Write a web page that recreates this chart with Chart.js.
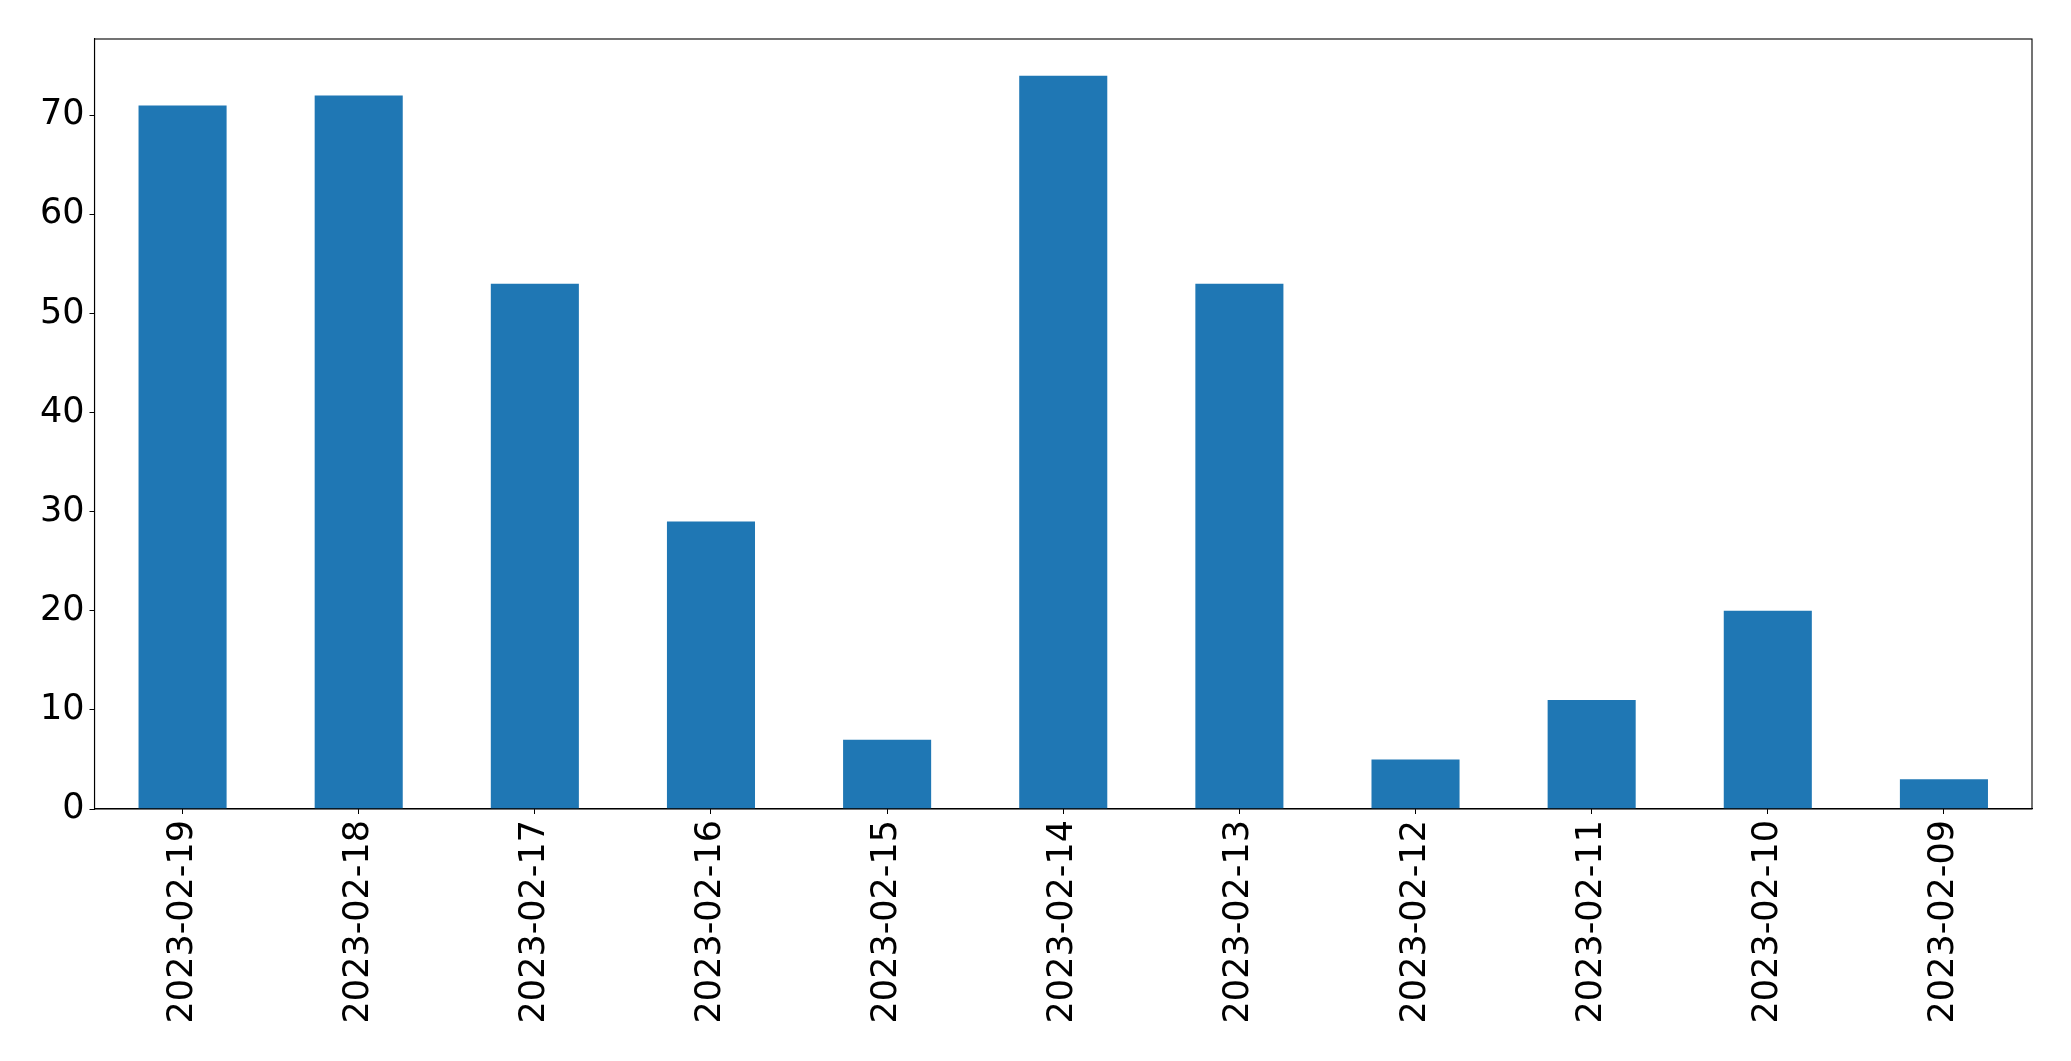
<!DOCTYPE html>
<html>
<head>
<meta charset="utf-8">
<script src="https://cdn.jsdelivr.net/npm/chart.js@4/dist/chart.umd.min.js"></script>
<style>
    body { margin: 0; background: #fff; }
    canvas { display: block; }
</style>
</head>
<body>
<canvas id="barChart" width="2071" height="1061"></canvas>
<script>
// Данные графика
const dates = ['2023-02-19', '2023-02-18', '2023-02-17', '2023-02-16', '2023-02-15', '2023-02-14',
    '2023-02-13', '2023-02-12', '2023-02-11', '2023-02-10', '2023-02-09'];
const counts = [71, 72, 53, 29, 7, 74, 53, 5, 11, 20, 3];
const yTicks = [0, 10, 20, 30, 40, 50, 60, 70];
const yMax = 77.7;

// Рамка вокруг области графика (как в matplotlib)
const frameBox = {
    id: 'frameBox',
    afterDraw(chart) {
        const { ctx, chartArea } = chart;
        ctx.save();
        ctx.strokeStyle = '#000';
        ctx.lineWidth = 1.1;
        ctx.strokeRect(chartArea.left, chartArea.top, chartArea.right - chartArea.left, chartArea.bottom - chartArea.top);
        ctx.restore();
    }
};

const ctx = document.getElementById('barChart').getContext('2d');
new Chart(ctx, {
    type: 'bar',
    data: {
        labels: dates,
        datasets: [{
            data: counts,
            backgroundColor: '#1f77b4',
            barPercentage: 0.5,
            categoryPercentage: 1.0
        }]
    },
    options: {
        responsive: false,
        animation: false,
        layout: { padding: { top: 39, right: 39, left: 0, bottom: 0 } },
        plugins: { legend: { display: false }, tooltip: { enabled: false } },
        scales: {
            x: {
                offset: true,
                grid: { offset: false, drawOnChartArea: false, drawTicks: true, tickLength: 5, color: '#000' },
                border: { display: true, color: '#000', width: 1.1 },
                ticks: {
                    color: '#000',
                    font: { family: 'DejaVu Sans', size: 35 },
                    minRotation: 90,
                    maxRotation: 90,
                    padding: 6,
                    autoSkip: false
                },
                afterFit(scale) { scale.height = 252; }
            },
            y: {
                min: 0,
                max: yMax,
                grid: { drawOnChartArea: false, drawTicks: true, tickLength: 5, color: '#000' },
                border: { display: true, color: '#000', width: 1.1 },
                ticks: {
                    color: '#000',
                    font: { family: 'DejaVu Sans', size: 35 },
                    stepSize: 10,
                    includeBounds: false,
                    padding: 5
                },
                afterBuildTicks(scale) {
                    scale.ticks = yTicks.map(v => ({ value: v }));
                },
                afterFit(scale) { scale.width = 94.5; }
            }
        }
    },
    plugins: [frameBox]
});
</script>
</body>
</html>
